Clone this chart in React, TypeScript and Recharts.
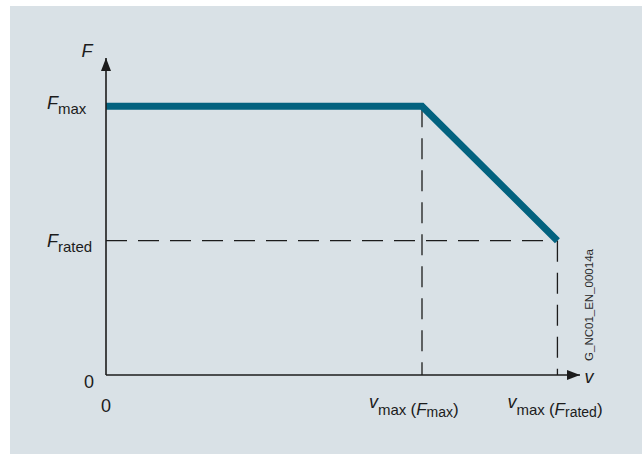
import React from 'react';
import { LineChart, Line, XAxis, YAxis, ReferenceLine, Label } from 'recharts';

// speed (x) and force (y) of the characteristic, in relative units
const speedPoints = [0, 70, 100];
const forcePoints = [100, 100, 50];
const speedTicks = [0, 70, 100];
const forceTicks = [0, 50, 100];
const forceTickNames = ['0', 'rated', 'max'];
const speedTickNames = ['0', 'max', 'rated'];
const diagramId = 'G_NC01_EN_00014a';

const FONT = '"Liberation Sans", Arial, Helvetica, sans-serif';
const INK = '#1c1c1c';
const PETROL = '#03627f';

const chartData = speedPoints.map((speed, i) => ({ speed, force: forcePoints[i] }));

const ForceTick = (props: any) => {
  const { x, y, index } = props;
  const name = forceTickNames[index];
  if (name === '0') {
    return (
      <text x={x - 12} y={y + 13} textAnchor="end" fontSize={18} fill={INK} fontFamily={FONT}>
        0
      </text>
    );
  }
  const dy = name === 'max' ? 3 : 6;
  return (
    <text x={x - 59} y={y + dy} textAnchor="start" fill={INK} fontFamily={FONT}>
      <tspan fontSize={18} fontStyle="italic">F</tspan>
      <tspan fontSize={15} dy={5}>{name}</tspan>
    </text>
  );
};

const SpeedTick = (props: any) => {
  const { x, y, index } = props;
  const name = speedTickNames[index];
  if (name === '0') {
    return (
      <text x={x} y={y + 37} textAnchor="middle" fontSize={18} fill={INK} fontFamily={FONT}>
        0
      </text>
    );
  }
  const left = name === 'max' ? 53 : 50;
  return (
    <text x={x - left} y={y + 33} textAnchor="start" fill={INK} fontFamily={FONT}>
      <tspan fontSize={18} fontStyle="italic">v</tspan>
      <tspan fontSize={15} dy={7}>{'max '}</tspan>
      <tspan fontSize={17}>(</tspan>
      <tspan fontSize={17} fontStyle="italic">F</tspan>
      <tspan fontSize={14} dy={2}>{name}</tspan>
      <tspan fontSize={17} dy={-2}>)</tspan>
    </text>
  );
};

const ForceTitle = (props: any) => {
  const { x, y, width } = props.viewBox;
  const ax = x + width;
  return (
    <text x={ax - 19} y={y - 1} textAnchor="middle" fontSize={18} fontStyle="italic" fill={INK} fontFamily={FONT}>
      F
    </text>
  );
};

const SpeedTitle = (props: any) => {
  const { x, y, width } = props.viewBox;
  const idX = x + width + 9;
  return (
    <g>
      <text x={idX} y={y + 8} textAnchor="middle" fontSize={18} fontStyle="italic" fill={INK} fontFamily={FONT}>
        v
      </text>
      <text
        x={idX}
        y={y - 70}
        textAnchor="middle"
        fontSize={11.5}
        fill="#2a2a2a"
        fontFamily={FONT}
        transform={`rotate(-90 ${idX} ${y - 70})`}
        dominantBaseline="central"
      >
        {diagramId}
      </text>
    </g>
  );
};

const dashed = { stroke: INK, strokeWidth: 1.3, strokeDasharray: '21 11' };

export default function App() {
  return (
    <div style={{ position: 'absolute', left: 0, top: 0, width: 642, height: 454, background: '#fff' }}>
      <div style={{ position: 'absolute', left: 10, top: 6, width: 632, height: 448, background: '#d9e1e6' }} />
      <svg width={0} height={0} style={{ position: 'absolute' }}>
        <defs>
          <marker
            id="axisArrow"
            markerUnits="userSpaceOnUse"
            markerWidth={13}
            markerHeight={10}
            viewBox="0 0 13 10"
            refX={13}
            refY={5}
            orient="auto-start-reverse"
          >
            <path d="M0,0 L13,5 L0,10 z" fill={INK} />
          </marker>
        </defs>
      </svg>
      <div style={{ position: 'absolute', left: 0, top: 0 }}>
        <LineChart width={642} height={454} data={chartData} margin={{ top: 58, right: 62, bottom: 78, left: 105 }}>
          <XAxis
            dataKey="speed"
            type="number"
            domain={[0, 105]}
            ticks={speedTicks}
            height={1}
            tickSize={0}
            tickMargin={0}
            tickLine={false}
            tick={<SpeedTick />}
            axisLine={{ stroke: INK, strokeWidth: 1.6, markerEnd: 'url(#axisArrow)' }}
            allowDataOverflow
            interval={0}
          >
            <Label content={<SpeedTitle />} />
          </XAxis>
          <YAxis
            type="number"
            domain={[0, 118]}
            ticks={forceTicks}
            width={1}
            tickSize={0}
            tickMargin={0}
            tickLine={false}
            tick={<ForceTick />}
            axisLine={{ stroke: INK, strokeWidth: 1.6, markerStart: 'url(#axisArrow)' }}
            allowDataOverflow
            interval={0}
          >
            <Label content={<ForceTitle />} />
          </YAxis>
          <ReferenceLine segment={[{ x: 0, y: 50 }, { x: 100, y: 50 }]} {...dashed} />
          <ReferenceLine segment={[{ x: 70, y: 100 }, { x: 70, y: 0 }]} {...dashed} />
          <ReferenceLine segment={[{ x: 100, y: 50 }, { x: 100, y: 0 }]} {...dashed} />
          <Line
            type="linear"
            dataKey="force"
            stroke={PETROL}
            strokeWidth={7}
            strokeLinejoin="miter"
            strokeLinecap="butt"
            dot={false}
            activeDot={false}
            isAnimationActive={false}
          />
        </LineChart>
      </div>
    </div>
  );
}
